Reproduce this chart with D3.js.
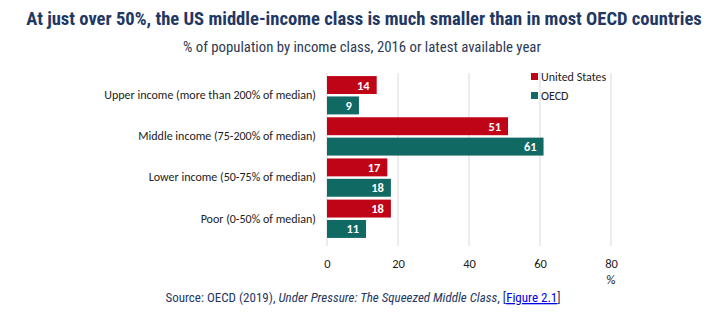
<!DOCTYPE html>
<html>
<head>
<meta charset="utf-8">
<script src="https://cdn.jsdelivr.net/npm/d3@7"></script>
<style>
  body { margin: 0; background: #fff; }
  svg { display: block; }
</style>
</head>
<body>
<svg id="chart" width="714" height="326"></svg>
<script>
// data
const categories = [
  "Upper income (more than 200% of median)",
  "Middle income (75-200% of median)",
  "Lower income (50-75% of median)",
  "Poor (0-50% of median)"
];
const seriesNames = ["United States", "OECD"];
const usValues = [14, 51, 17, 18];
const oecdValues = [9, 61, 18, 11];
const xTicks = [0, 20, 40, 60, 80];

const colors = { "United States": "#c00418", "OECD": "#116964" };
const navy = "#1f3864";
const narrow = "'Liberation Sans Narrow', 'Arial Narrow', 'Roboto Condensed', Arial, sans-serif";
const body = "Carlito, Calibri, Lato, 'Open Sans', sans-serif";

const svg = d3.select("#chart");

const margin = { top: 73, left: 327, right: 103, bottom: 80 };
const width = 714 - margin.left - margin.right;
const height = 326 - margin.top - margin.bottom;

// title + subtitle
svg.append("text")
  .attr("x", 364).attr("y", 25)
  .attr("text-anchor", "middle")
  .attr("font-family", narrow)
  .attr("font-weight", "bold")
  .attr("font-size", 18.6)
  .attr("fill", navy)
  .text("At just over 50%, the US middle-income class is much smaller than in most OECD countries");

svg.append("text")
  .attr("x", 362).attr("y", 52)
  .attr("text-anchor", "middle")
  .attr("font-family", narrow)
  .attr("font-size", 14.8)
  .attr("fill", "#2b3a55")
  .text("% of population by income class, 2016 or latest available year");

const g = svg.append("g")
  .attr("transform", "translate(" + margin.left + "," + margin.top + ")");

const x = d3.scaleLinear().domain([0, 80]).range([0, 284]);
const y = d3.scaleBand().domain(categories).range([0, height - 5]).paddingInner(0.02).paddingOuter(0.05);
const ySub = d3.scaleBand().domain(seriesNames).range([0, y.bandwidth()]).paddingInner(0.12).paddingOuter(0.05);

// gridlines
g.append("g")
  .selectAll("line")
  .data(xTicks)
  .join("line")
  .attr("x1", d => x(d)).attr("x2", d => x(d))
  .attr("y1", 0).attr("y2", height)
  .attr("stroke", "#d9d9d9")
  .attr("stroke-width", 1);

// tick labels
g.append("g")
  .attr("transform", "translate(0," + (height + 13) + ")")
  .call(d3.axisBottom(x).tickValues(xTicks).tickSize(0).tickPadding(0))
  .call(a => a.select(".domain").remove())
  .selectAll("text")
  .attr("font-family", body)
  .attr("font-size", 12.5)
  .attr("fill", "#222");

g.append("text")
  .attr("x", x(80)).attr("y", height + 38)
  .attr("text-anchor", "middle")
  .attr("font-family", body)
  .attr("font-size", 12.5)
  .attr("fill", "#222")
  .text("%");

// category labels
g.append("g")
  .call(d3.axisLeft(y).tickSize(0).tickPadding(11))
  .call(a => a.select(".domain").remove())
  .selectAll("text")
  .attr("font-family", body)
  .attr("font-size", 12)
  .attr("fill", "#222");

// bars
const rows = categories.map((c, i) => ({
  cat: c,
  vals: [
    { series: "United States", value: usValues[i] },
    { series: "OECD", value: oecdValues[i] }
  ]
}));

const groups = g.selectAll(".cat")
  .data(rows)
  .join("g")
  .attr("class", "cat")
  .attr("transform", d => "translate(0," + y(d.cat) + ")");

groups.selectAll("rect")
  .data(d => d.vals)
  .join("rect")
  .attr("x", x(0))
  .attr("y", d => ySub(d.series))
  .attr("width", d => x(d.value) - x(0))
  .attr("height", ySub.bandwidth())
  .attr("fill", d => colors[d.series]);

groups.selectAll("text.val")
  .data(d => d.vals)
  .join("text")
  .attr("class", "val")
  .attr("x", d => x(d.value) - 7)
  .attr("y", d => ySub(d.series) + ySub.bandwidth() / 2)
  .attr("dy", "0.36em")
  .attr("text-anchor", "end")
  .attr("font-family", body)
  .attr("font-weight", "bold")
  .attr("font-size", 12.5)
  .attr("fill", "#fff")
  .text(d => d.value);

// legend
const legend = svg.append("g")
  .attr("transform", "translate(531,72)");
legend.selectAll("g")
  .data(seriesNames)
  .join("g")
  .attr("transform", (d, i) => "translate(0," + i * 19 + ")")
  .each(function(d) {
    const l = d3.select(this);
    l.append("rect").attr("width", 7).attr("height", 7).attr("y", 1).attr("fill", colors[d]);
    l.append("text").attr("x", 10).attr("y", 5).attr("dy", "0.35em")
      .attr("font-family", body).attr("font-size", 12).attr("fill", "#222").text(d);
  });

// source line
const src = svg.append("text")
  .attr("x", 363).attr("y", 302)
  .attr("text-anchor", "middle")
  .attr("font-family", narrow)
  .attr("font-size", 13)
  .attr("fill", navy);
src.append("tspan").text("Source: OECD (2019), ");
src.append("tspan").attr("font-style", "italic").text("Under Pressure: The Squeezed Middle Class");
src.append("tspan").text(", [");
src.append("tspan").attr("fill", "#0000ee").attr("text-decoration", "underline").text("Figure 2.1");
src.append("tspan").text("]");
</script>
</body>
</html>
